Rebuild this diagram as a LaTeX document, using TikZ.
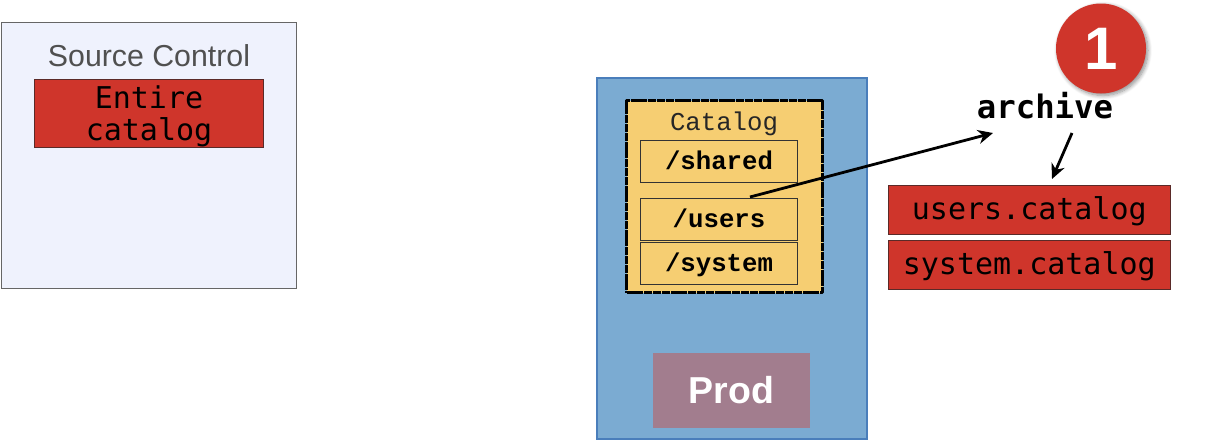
\documentclass[tikz,border=0pt]{standalone}
\usepackage{fontspec}
\setmainfont{Liberation Sans}
\newfontfamily\dvmono{DejaVu Sans Mono}
\newfontfamily\lbmono{Liberation Mono}
\usetikzlibrary{arrows.meta,shadows.blur}
\definecolor{srcfill}{HTML}{EFF2FD}
\definecolor{srcline}{HTML}{666666}
\definecolor{redbox}{HTML}{CF352B}
\definecolor{redline}{HTML}{5A2A28}
\definecolor{prodblue}{HTML}{7BABD2}
\definecolor{prodline}{HTML}{4A7EBB}
\definecolor{catfill}{HTML}{F6CE72}
\definecolor{prodtag}{HTML}{A27D8E}
\definecolor{srctext}{HTML}{505050}
\tikzset{
  x=1pt,y=-1pt,
  redrect/.style={draw=redline,line width=0.8pt,fill=redbox,inner sep=0pt,outer sep=0pt,text=black,align=center},
  folder/.style={draw=black!80,line width=0.7pt,fill=catfill,inner sep=0pt,outer sep=0pt,minimum width=157pt,text height=19.5pt,text depth=3.5pt,font=\lbmono\bfseries\fontsize{25.7}{28}\selectfont,text=black},
  flow/.style={-{Stealth[length=15pt,width=14pt]},line width=2.8pt,black},
  monotext/.style={font=\dvmono\fontsize{30}{33}\selectfont},
}
\begin{document}
\begin{tikzpicture}
\useasboundingbox (0,0) rectangle (1205,442);
% Source control
\node[draw=srcline,line width=0.8pt,fill=srcfill,minimum width=295pt,minimum height=266pt,inner sep=0pt,outer sep=0pt] (source) at (149,155.5) {};
\node[font=\fontsize{30.3}{33}\selectfont,text=srctext] (sourcelabel) at (149,55.5) {Source Control};
\node[redrect,minimum width=229.5pt,minimum height=68pt,monotext] (entire) at (149,113.7) {\rule{0pt}{28pt}Entire\\[-1.5pt]catalog};
% Prod box
\node[draw=prodline,line width=1.6pt,fill=prodblue,minimum width=270pt,minimum height=361pt,inner sep=0pt,outer sep=0pt] (prodbox) at (732,258.5) {};
\node[fill=catfill,draw=black,line width=3pt,dash pattern=on 8pt off 0.8pt,line join=round,minimum width=196pt,minimum height=192pt,inner sep=0pt,outer sep=0pt] (catalog) at (724.5,196.8) {};
\node[font=\lbmono\fontsize{25.7}{28}\selectfont,text=black!85] (cataloglabel) at (724,123.5) {Catalog};
\node[folder,minimum height=41.5pt] (shared) at (719,161.4) {/shared};
\node[folder,minimum height=41.5pt] (users) at (719,219.2) {/users};
\node[folder,minimum height=42pt] (system) at (719,263.5) {/system};
\node[fill=prodtag,minimum width=157pt,minimum height=75pt,inner sep=0pt,text=white,font=\bfseries\fontsize{37.5}{40}\selectfont] (prod) at (731.5,390.5) {Prod};
% Red outputs
\node[redrect,minimum width=282.5pt,minimum height=49pt,text height=24pt,text depth=4pt,monotext] (userscat) at (1029.3,209.5) {users.catalog};
\node[redrect,minimum width=282.5pt,minimum height=49pt,text height=24pt,text depth=4pt,monotext] (systemcat) at (1029.3,264.5) {system.catalog};
% Badge
\node[circle,fill=redbox,minimum size=90pt,inner sep=0pt,text=white,font=\bfseries\fontsize{60}{62}\selectfont,blur shadow={shadow xshift=2pt,shadow yshift=-2pt,shadow blur steps=8,shadow blur radius=4pt,shadow opacity=45}] (badge) at (1101,48.5) {1};
\node[font=\dvmono\bfseries\fontsize{32.3}{36}\selectfont,text=black] (archive) at (1045,106) {archive};
% Connectors
\coordinate (usersout) at (750,197);
\coordinate (archivein) at (993,133);
\coordinate (archiveout) at (1072,133);
\coordinate (catalogin) at (1052,179);
\draw[flow] (usersout) -- (archivein);
\draw[flow] (archiveout) -- (catalogin);
\end{tikzpicture}
\end{document}
